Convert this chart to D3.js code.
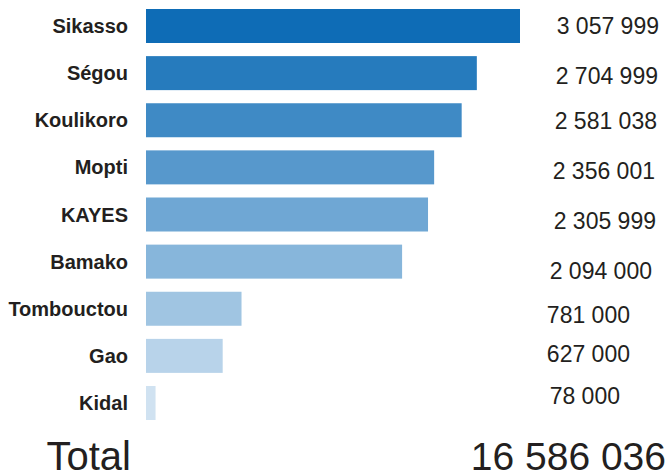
<!DOCTYPE html>
<html>
<head>
<meta charset="utf-8">
<script src="https://cdn.jsdelivr.net/npm/d3@7"></script>
<style>
  body { margin: 0; background: #fff; }
  text { font-family: "Liberation Sans", Arial, sans-serif; fill: #231f20; }
</style>
</head>
<body>
<div id="chart-area"></div>
<script>
const regions = ['Sikasso', 'Ségou', 'Koulikoro', 'Mopti', 'KAYES', 'Bamako', 'Tombouctou', 'Gao', 'Kidal'];
const population = [3057999, 2704999, 2581038, 2356001, 2305999, 2094000, 781000, 627000, 78000];
const totalLabel = 'Total';
const totalValue = 16586036;

// the value labels are placed by hand in the original: right edge x, shift from bar centre
const valueLabelPos = [[659, 0], [658, 3], [657, 1], [655, 3.5], [656, 6], [652, 9], [630, 6.5], [630, -2], [620, -7]];

const width = 669;
const height = 471;

const svg = d3.select('#chart-area').append('svg')
  .attr('width', width)
  .attr('height', height);

const x = d3.scaleLinear()
  .domain([0, d3.max(population)])
  .range([146, 520]);

const y = d3.scaleBand()
  .domain(regions)
  .range([9, 420])
  .paddingInner(0.2785)
  .paddingOuter(0);

const color = d3.scaleLinear()
  .domain([0, regions.length - 1])
  .range(['#0e6cb6', '#d0e2f1'])
  .interpolate(d3.interpolateRgb);

const fmt = v => d3.format(',')(v).replace(/,/g, ' ');

svg.selectAll('rect.bar')
  .data(regions)
  .enter()
  .append('rect')
  .attr('class', 'bar')
  .attr('x', x(0))
  .attr('y', d => y(d))
  .attr('width', (d, i) => x(population[i]) - x(0))
  .attr('height', y.bandwidth())
  .attr('fill', (d, i) => color(i));

svg.selectAll('text.region')
  .data(regions)
  .enter()
  .append('text')
  .attr('class', 'region')
  .attr('x', 128)
  .attr('y', d => y(d) + y.bandwidth() / 2)
  .attr('dy', '0.35em')
  .attr('text-anchor', 'end')
  .attr('font-size', '20px')
  .attr('font-weight', 'bold')
  .text(d => d);

svg.selectAll('text.value')
  .data(regions)
  .enter()
  .append('text')
  .attr('class', 'value')
  .attr('x', (d, i) => valueLabelPos[i][0])
  .attr('y', (d, i) => y(d) + y.bandwidth() / 2 + valueLabelPos[i][1])
  .attr('dy', '0.35em')
  .attr('text-anchor', 'end')
  .attr('font-size', '23px')
  .text((d, i) => fmt(population[i]));

// the total row sits right on the bottom edge, as in the original
svg.append('text')
  .attr('x', 131)
  .attr('y', 470)
  .attr('text-anchor', 'end')
  .attr('font-size', '40px')
  .text(totalLabel);

svg.append('text')
  .attr('x', 666)
  .attr('y', 470)
  .attr('text-anchor', 'end')
  .attr('font-size', '39px')
  .text(fmt(totalValue));
</script>
</body>
</html>
